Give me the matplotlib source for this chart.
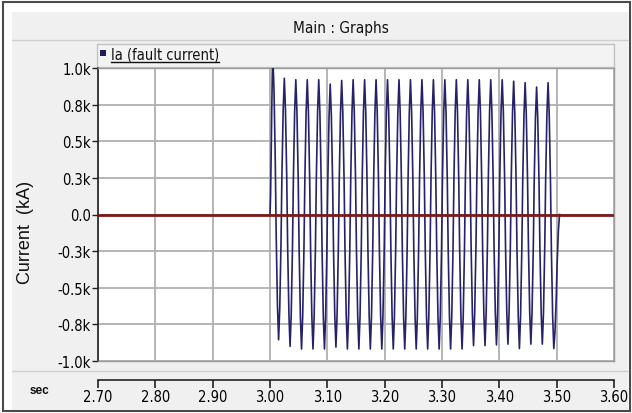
import matplotlib
matplotlib.use('Agg')
import matplotlib.pyplot as plt
from matplotlib.patches import Rectangle
from matplotlib.lines import Line2D
from matplotlib import font_manager

# ---------------- data ----------------
x_ticks = [2.70, 2.80, 2.90, 3.00, 3.10, 3.20, 3.30, 3.40, 3.50, 3.60]
x_tick_labels = ['2.70', '2.80', '2.90', '3.00', '3.10', '3.20', '3.30', '3.40', '3.50', '3.60']
y_ticks = [-1.0, -0.75, -0.5, -0.25, 0.0, 0.25, 0.5, 0.75, 1.0]
y_tick_labels = ['-1.0k', '-0.8k', '-0.5k', '-0.3k', '0.0', '0.3k', '0.5k', '0.8k', '1.0k']

# fault current Ia: extrema of each half cycle (s, kA)
fault_start = (3.000, 0.0)
fault_end = (3.505, 0.0)
pos_peak_t = [3.005, 3.025, 3.045, 3.065, 3.085, 3.105, 3.125, 3.145, 3.165, 3.185,
              3.205, 3.225, 3.245, 3.265, 3.285, 3.305, 3.325, 3.345, 3.365, 3.385,
              3.405, 3.425, 3.445, 3.465, 3.485]
pos_peak_v = [1.08, 0.93, 0.92, 0.92, 0.92, 0.89, 0.915, 0.92, 0.92, 0.92,
              0.92, 0.92, 0.92, 0.92, 0.92, 0.92, 0.92, 0.92, 0.92, 0.92,
              0.92, 0.91, 0.90, 0.87, 0.90]
neg_peak_t = [3.015, 3.035, 3.055, 3.075, 3.095, 3.115, 3.135, 3.155, 3.175, 3.195,
              3.215, 3.235, 3.255, 3.275, 3.295, 3.315, 3.335, 3.355, 3.375, 3.395,
              3.415, 3.435, 3.455, 3.475, 3.495]
neg_peak_v = [-0.855, -0.90, -0.918, -0.918, -0.918, -0.905, -0.918, -0.918, -0.918, -0.918,
              -0.918, -0.918, -0.918, -0.918, -0.918, -0.918, -0.918, -0.895, -0.895, -0.89,
              -0.885, -0.915, -0.885, -0.885, -0.915]
# shape of one swing between two extrema
# (fraction of the half cycle, fraction of the swing travelled)
swing_frac_t = [0.0, 0.2, 0.42, 0.5, 0.58, 0.8, 1.0]
swing_frac_v = [0.0, 0.12, 0.37, 0.5, 0.63, 0.88, 1.0]

# second trace (flat at zero)
zero_t = [2.70, 3.60]
zero_v = [0.0, 0.0]

legend_label = 'Ia (fault current)'
title_text = 'Main : Graphs'
y_label = 'Current  (kA)'
x_unit = 'sec'

# ---------------- fonts ----------------
_fonts = font_manager.fontManager.ttflist
_names = {f.name for f in _fonts}
if 'Liberation Sans Narrow' in _names:
    NARROW = dict(family=['Liberation Sans Narrow', 'DejaVu Sans'])
elif any(f.name == 'DejaVu Sans' and f.stretch == 'condensed' for f in _fonts):
    NARROW = dict(family=['DejaVu Sans'], fontstretch='condensed')
else:
    NARROW = dict(family=['Liberation Sans', 'DejaVu Sans'])
REG = dict(family=['Liberation Sans', 'DejaVu Sans'])

# ---------------- layout helpers ----------------
W, H = 632, 414
fig = plt.figure(figsize=(W / 100, H / 100), dpi=100)
fig.patch.set_facecolor('white')


def fx(x):
    return x / W


def fy(y):
    return 1 - y / H


def rect(x0, y0, x1, y1, z, **kw):
    fig.patches.append(Rectangle((fx(x0), fy(y1)), fx(x1) - fx(x0), fy(y0) - fy(y1),
                                 transform=fig.transFigure, zorder=z, **kw))


def line(xs, ys, z, **kw):
    fig.add_artist(Line2D([fx(v) for v in xs], [fy(v) for v in ys],
                          transform=fig.transFigure, zorder=z, **kw))


# outer frame and panels
rect(3, 3, 630, 412, -5, facecolor='white', edgecolor='#4a4a4a', lw=1.5)
rect(12, 13, 628, 411, -4, facecolor='#f0f0f0', edgecolor='none')
line([12, 628], [41, 41], -3, color='#cfcfcf', lw=1.0)
line([12, 628], [372, 372], -3, color='#cfcfcf', lw=1.0)
# legend bar
rect(97, 45, 614, 68, -2, facecolor='#f3f3f3', edgecolor='#c4c4c4', lw=1.0)

fig.text(fx(341), fy(28), title_text, ha='center', va='center', fontsize=11,
         color='#111111', **NARROW)

# ---------------- main axes ----------------
ax = fig.add_axes([fx(98), fy(362), fx(614) - fx(98), fy(69) - fy(362)])
ax.set_zorder(2)
ax.set_facecolor('white')
ax.set_xlim(x_ticks[0], x_ticks[-1])
ax.set_ylim(-1.0, 1.0)
ax.set_xticks(x_ticks)
ax.set_yticks(y_ticks)
ax.set_yticklabels(y_tick_labels, fontsize=10.5, **NARROW)
ax.tick_params(axis='x', length=0, labelbottom=False)
ax.tick_params(axis='y', direction='out', length=4, width=1, color='#222222', pad=1)
ax.grid(True, color='#b0b0b0', lw=1.3)
ax.set_axisbelow(True)
for s in ['top', 'right', 'bottom']:
    ax.spines[s].set_color('#9a9a9a')
    ax.spines[s].set_linewidth(1.0)
ax.spines['left'].set_color('#222222')
ax.spines['left'].set_linewidth(1.2)

# build fault-current trace: extrema joined by the read swing shape
ext_t = [fault_start[0]]
ext_v = [fault_start[1]]
for tp, vp, tn, vn in zip(pos_peak_t, pos_peak_v, neg_peak_t, neg_peak_v):
    ext_t += [tp, tn]
    ext_v += [vp, vn]
ext_t.append(fault_end[0])
ext_v.append(fault_end[1])

ts = [ext_t[0]]
vs = [ext_v[0]]
for i in range(len(ext_t) - 1):
    t0, t1 = ext_t[i], ext_t[i + 1]
    v0, v1 = ext_v[i], ext_v[i + 1]
    for ft, fv in zip(swing_frac_t[1:], swing_frac_v[1:]):
        ts.append(t0 + ft * (t1 - t0))
        vs.append(v0 + fv * (v1 - v0))

ax.plot(ts, vs, color='#25226a', lw=1.2, zorder=3)
ax.plot(zero_t, zero_v, color='#7a1a1a', lw=2.0, zorder=4)

fig.text(fx(25), fy(232), y_label, rotation=90, ha='center', va='center',
         fontsize=13, color='#111111', **REG)

# ---------------- x axis strip ----------------
axx = fig.add_axes([fx(98), fy(387), fx(614) - fx(98), fy(381) - fy(387)])
axx.set_zorder(2)
axx.set_xlim(x_ticks[0], x_ticks[-1])
axx.patch.set_alpha(0)
for s in ['left', 'right', 'bottom']:
    axx.spines[s].set_visible(False)
axx.spines['top'].set_color('#222222')
axx.spines['top'].set_linewidth(1.2)
axx.set_yticks([])
axx.set_xticks(x_ticks)
axx.set_xticklabels(x_tick_labels, fontsize=10.5, **NARROW)
axx.tick_params(axis='x', top=True, bottom=False, direction='in', length=6,
                width=1.2, color='#222222', labeltop=False, labelbottom=True, pad=2)

fig.text(fx(40), fy(391), x_unit, ha='center', va='center', fontsize=8.5,
         fontweight='bold', color='#111111', **REG)

# ---------------- legend ----------------
rect(100, 51, 106, 57, 1, facecolor='#1e1b5a', edgecolor='none')
lt = fig.text(fx(111), fy(55), legend_label, ha='left', va='center', fontsize=10.5,
              color='#111111', **NARROW)
fig.canvas.draw()
bb = lt.get_window_extent()
line([bb.x0, bb.x1], [63, 63], 3, color='#111111', lw=1.0)

fig.savefig('out.png', dpi=100)
